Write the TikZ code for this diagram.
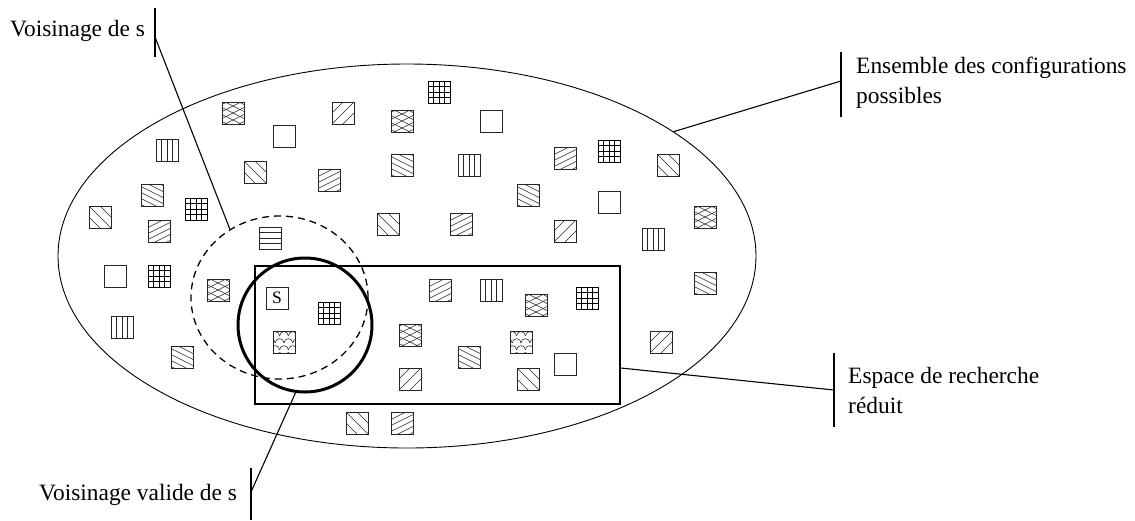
\documentclass[tikz,border=0pt]{standalone}
\usepackage{fontspec}
\setmainfont{Liberation Serif}
\usetikzlibrary{shapes.geometric,calc}
\newcommand\sqpat[1]{\begin{scope}[shift={(path picture bounding box.center)},x=1pt,y=1pt,line width=0.55pt]#1\end{scope}}
\tikzset{
  sqbox/.style={draw=black!85, line width=0.85pt, minimum size=22pt, inner sep=0pt, rectangle},
  emp/.style={sqbox},
  nes/.style={sqbox, path picture={\sqpat{\foreach \c in {-11,0,11} \draw (-16,-16+\c) -- (16,16+\c);}}},
  nws/.style={sqbox, path picture={\sqpat{\foreach \c in {-11,0,11} \draw (-16,16+\c) -- (16,-16+\c);}}},
  ned/.style={sqbox, path picture={\sqpat{\foreach \c in {-15,-9,-3,3,9,15} \draw (-16,-8+\c) -- (16,8+\c);}}},
  nwd/.style={sqbox, path picture={\sqpat{\foreach \c in {-15,-9,-3,3,9,15} \draw (-16,8+\c) -- (16,-8+\c);}}},
  xx/.style={sqbox, path picture={\sqpat{\foreach \c in {-14,-7,0,7,14} {\draw (-16,-8+\c) -- (16,8+\c); \draw (-16,8+\c) -- (16,-8+\c);}}}},
  grd/.style={sqbox, draw=black, path picture={\sqpat{\foreach \c in {-5.5,0,5.5} {\draw[line width=0.8pt] (\c,-12) -- (\c,12); \draw[line width=0.8pt] (-12,\c) -- (12,\c);}}}},
  vrt/.style={sqbox, path picture={\sqpat{\foreach \c in {-5.5,0,5.5} \draw[line width=0.75pt] (\c,-12) -- (\c,12);}}},
  hor/.style={sqbox, path picture={\sqpat{\foreach \c in {-5.5,0,5.5} \draw[line width=0.75pt] (-12,\c) -- (12,\c);}}},
  scl/.style={sqbox, path picture={\sqpat{\foreach \v/\o in {6/0,-1/4.4,-8/0,-15/4.4} \foreach \u in {-17.6,-8.8,0,8.8,17.6} \draw (\u+\o+4.4,\v) arc[start angle=0,end angle=180,radius=4.4];}}},
  lbl/.style={line width=1.1pt},
  lbltxt/.style={inner sep=0pt, font=\fontsize{23.4}{30}\selectfont},
}
\begin{document}
\begin{tikzpicture}[x=1pt,y=-1pt]
\useasboundingbox (0,0) rectangle (1135,520);
\node[draw, ellipse, line width=0.9pt, minimum width=698pt, minimum height=384pt, inner sep=0pt] (E) at (407,256) {};
% squares
\node[xx]  (s1)  at (233,113) {};
\node[emp] (s2)  at (284,136) {};
\node[nes] (s3)  at (343,113) {};
\node[xx]  (s4)  at (402,121) {};
\node[grd] (s5)  at (439,92) {};
\node[emp] (s6)  at (491,121) {};
\node[vrt] (s7)  at (167,150) {};
\node[nws] (s8)  at (255,172) {};
\node[ned] (s9)  at (329,180) {};
\node[nwd] (s10) at (402,165) {};
\node[nwd] (s11) at (152,195) {};
\node[grd] (s12) at (196,209) {};
\node[ned] (s13) at (159,231) {};
\node[nws] (s14) at (388,224) {};
\node[hor] (s15) at (270,238) {};
\node[vrt] (s17) at (469,165) {};
\node[ned] (s18) at (565,158) {};
\node[grd] (s19) at (609,151) {};
\node[nws] (s20) at (668,165) {};
\node[nwd] (s21) at (528,195) {};
\node[emp] (s22) at (609,202) {};
\node[ned] (s23) at (461,224) {};
\node[nes] (s24) at (565,231) {};
\node[xx]  (s25) at (705,217) {};
\node[vrt] (s26) at (653,239) {};
\node[nws] (s27) at (100,217) {};
\node[emp] (s31) at (115,276) {};
\node[grd] (s32) at (159,276) {};
\node[xx]  (s33) at (218,290) {};
\node[vrt] (s34) at (122,327) {};
\node[nwd] (s35) at (182,357) {};
\node[sqbox] (s36) at (277,298) {\fontsize{17.5}{17.5}\selectfont S};
\node[grd] (s37) at (329,313) {};
\node[scl] (s38) at (284,342) {};
\node[ned] (s39) at (440,290) {};
\node[vrt] (s40) at (491,290) {};
\node[xx]  (s41) at (536,305) {};
\node[grd] (s42) at (587,298) {};
\node[xx]  (s43) at (410,335) {};
\node[scl] (s44) at (521,342) {};
\node[nwd] (s45) at (469,357) {};
\node[emp] (s46) at (565,364) {};
\node[nes] (s47) at (410,379) {};
\node[nws] (s48) at (528,379) {};
\node[nwd] (s49) at (705,283) {};
\node[nes] (s50) at (661,342) {};
\node[ned] (s51) at (402,423) {};
\node[nws] (s52) at (357,423) {};
% regions
\node[draw, line width=1.4pt, minimum width=365pt, minimum height=138pt, inner sep=0pt] (R) at (437.5,335) {};
\node[draw, ellipse, line width=1.3pt, dash pattern=on 7pt off 5pt, minimum width=177pt, minimum height=163pt, inner sep=0pt] (D) at (279.5,297.5) {};
\node[draw, circle, line width=3pt, minimum size=134pt, inner sep=0pt] (C) at (305,325) {};
% label bars
\coordinate (b1t) at (155,8);   \coordinate (b1b) at (155,57);  \coordinate (b1m) at (155,37);
\coordinate (b2t) at (841,52);  \coordinate (b2b) at (841,117); \coordinate (b2m) at (841,81);
\coordinate (b3t) at (834,353); \coordinate (b3b) at (834,427); \coordinate (b3m) at (834,390);
\coordinate (b4t) at (251,468); \coordinate (b4b) at (251,520); \coordinate (b4m) at (251,492);
\draw[lbl] (b1t) -- (b1b);
\draw[lbl] (b2t) -- (b2b);
\draw[lbl] (b3t) -- (b3b);
\draw[lbl] (b4t) -- (b4b);
\draw[lbl] (D.126) -- (b1m);
\draw[lbl] (E.25) -- (b2m);
\draw[lbl] ([yshift=-33pt]R.east) -- (b3m);
\draw[lbl] (C.262) -- (b4m);
% texts
\node[lbltxt, anchor=base west] (t1) at (10,36) {Voisinage de s};
\node[lbltxt, anchor=north west, align=left] (t2) at (856,57) {Ensemble des configurations\\possibles};
\node[lbltxt, anchor=north west, align=left] (t3) at (848,367) {Espace de recherche\\réduit};
\node[lbltxt, anchor=base west] (t4) at (39,500) {Voisinage valide de s};
\end{tikzpicture}
\end{document}
